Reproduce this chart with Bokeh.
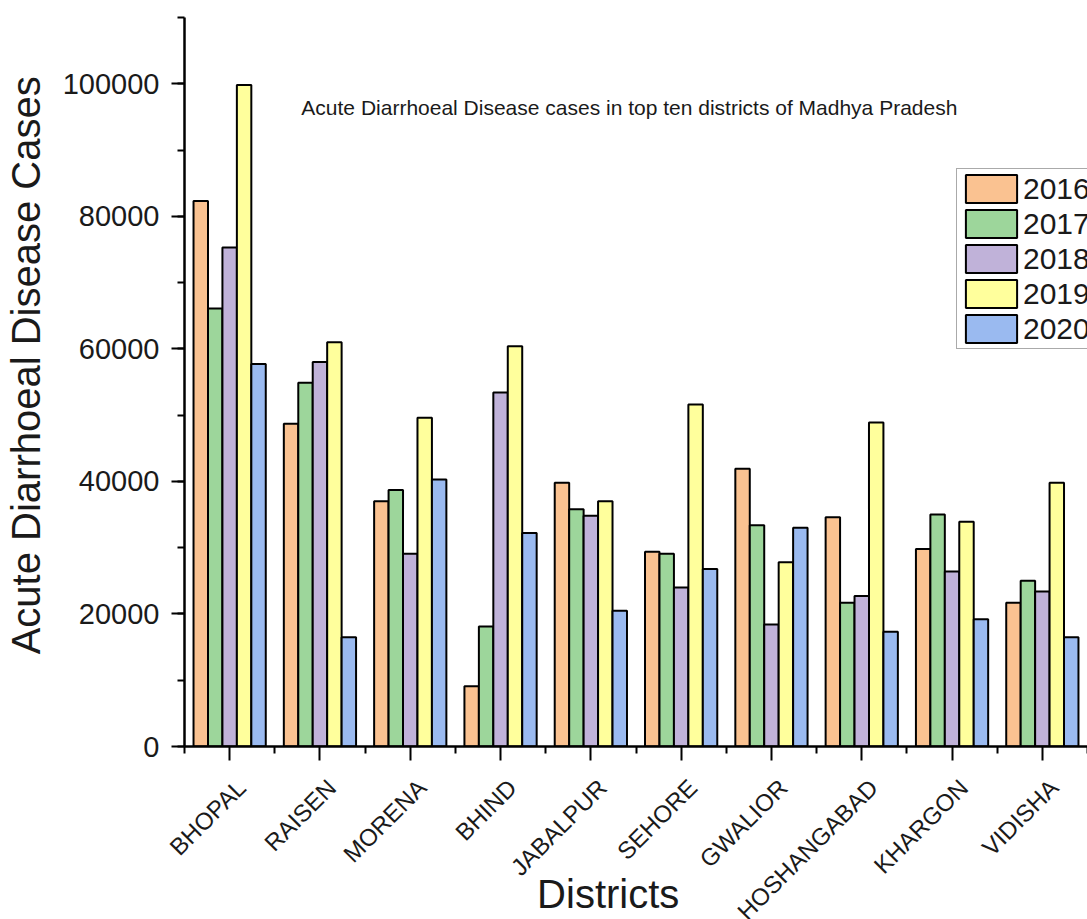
import math

from bokeh.embed import file_html
from bokeh.models import (BasicTickFormatter, ColumnDataSource, FixedTicker,
                          Label, Legend, LegendItem, LinearAxis, Range1d)
from bokeh.plotting import figure
from bokeh.resources import INLINE
from bokeh.transform import dodge

# Acute Diarrhoeal Disease cases, top ten districts of Madhya Pradesh
districts = ["BHOPAL", "RAISEN", "MORENA", "BHIND", "JABALPUR",
             "SEHORE", "GWALIOR", "HOSHANGABAD", "KHARGON", "VIDISHA"]
years = ["2016", "2017", "2018", "2019", "2020"]
cases_2016 = [82300, 48700, 37000, 9100, 39800, 29400, 41900, 34600, 29800, 21700]
cases_2017 = [66100, 54900, 38700, 18100, 35800, 29100, 33400, 21700, 35000, 25000]
cases_2018 = [75300, 58000, 29100, 53400, 34800, 24000, 18400, 22700, 26400, 23400]
cases_2019 = [99800, 61000, 49600, 60400, 37000, 51600, 27800, 48900, 33900, 39800]
cases_2020 = [57700, 16500, 40300, 32200, 20500, 26800, 33000, 17300, 19200, 16500]
y_ticks = [0, 20000, 40000, 60000, 80000, 100000]

year_colors = ["#FAC291", "#9DD69B", "#C0B2D9", "#FFFF9C", "#9ABAF0"]
FONT = "Liberation Sans"
INK = "#1a1a1a"
NBSP = "\u00a0"

n = len(districts)
source = ColumnDataSource(dict(
    pos=list(range(n)),
    y2016=cases_2016, y2017=cases_2017, y2018=cases_2018,
    y2019=cases_2019, y2020=cases_2020,
))

p = figure(width=1087, height=919, output_backend="svg", toolbar_location=None,
           x_range=Range1d(-0.5, 9.5), y_range=Range1d(0, 110000),
           min_border_left=183, min_border_right=0, min_border_top=17,
           min_border_bottom=173)
p.outline_line_color = None
p.xgrid.visible = False
p.ygrid.visible = False
p.background_fill_color = "white"
p.border_fill_color = "white"

bar_w = 0.16
renderers = []
for k, (yr, col) in enumerate(zip(years, year_colors)):
    r = p.vbar(x=dodge("pos", (k - 2) * bar_w), top="y" + yr, width=bar_w,
               source=source, fill_color=col, line_color="black", line_width=2)
    renderers.append(r)

# bottom axis: line and ticks only
xa = p.xaxis[0]
xa.ticker = FixedTicker(ticks=list(range(n)),
                        minor_ticks=[i - 0.5 for i in range(n + 1)])
xa.major_label_overrides = {i: "" for i in range(n)}
xa.major_label_standoff = 0
xa.axis_line_width = 2.5
xa.major_tick_out = 14
xa.major_tick_in = 0
xa.minor_tick_out = 7
xa.minor_tick_in = 0
xa.major_tick_line_width = 2
xa.minor_tick_line_width = 2

# district names, set slightly right of their ticks
name_shift = 0.13
p.extra_x_ranges = {"names": Range1d(-0.5 - name_shift, 9.5 - name_shift)}
xb = LinearAxis(x_range_name="names",
                ticker=FixedTicker(ticks=list(range(n)), minor_ticks=[]),
                major_label_overrides={i: d for i, d in enumerate(districts)},
                major_label_orientation=math.pi / 4,
                major_label_text_font=FONT,
                major_label_text_font_size="24px",
                major_label_text_color=INK,
                major_label_standoff=23,
                axis_line_color=None, major_tick_line_color=None,
                minor_tick_line_color=None, major_tick_out=0, major_tick_in=0,
                axis_label="Districts" + NBSP * 5, axis_label_text_font=FONT,
                axis_label_text_font_size="40px",
                axis_label_text_font_style="normal",
                axis_label_text_color=INK, axis_label_standoff=-66)
p.add_layout(xb, "below")

ya = p.yaxis[0]
ya.ticker = FixedTicker(ticks=y_ticks,
                        minor_ticks=list(range(0, 110001, 10000)))
ya.formatter = BasicTickFormatter(use_scientific=False)
ya.major_label_text_font = FONT
ya.major_label_text_font_size = "29px"
ya.major_label_text_color = INK
ya.major_label_standoff = 12
ya.axis_line_width = 2.5
ya.major_tick_out = 13
ya.major_tick_in = 0
ya.minor_tick_out = 7
ya.minor_tick_in = 0
ya.major_tick_line_width = 2
ya.minor_tick_line_width = 2

# y title on its own bare axis
yt = LinearAxis(ticker=FixedTicker(ticks=[], minor_ticks=[]),
                axis_line_color=None, major_tick_out=0, major_tick_in=0,
                major_label_standoff=0,
                axis_label=NBSP * 3 + "Acute Diarrhoeal Disease Cases",
                axis_label_text_font=FONT, axis_label_text_font_size="40px",
                axis_label_text_font_style="normal", axis_label_text_color=INK,
                axis_label_standoff=12)
p.add_layout(yt, "left")

p.add_layout(Label(x=0.794, y=96400,
                   text="Acute Diarrhoeal Disease cases in top ten districts of Madhya Pradesh",
                   text_align="left", text_baseline="middle",
                   text_font=FONT, text_font_size="21px",
                   text_color=INK))

legend = Legend(items=[LegendItem(label=yr, renderers=[r])
                       for yr, r in zip(years, renderers)],
                location=(772, 397))
legend.border_line_color = "#555555"
legend.border_line_width = 1
legend.background_fill_alpha = 1
legend.label_text_font = FONT
legend.label_text_font_size = "30px"
legend.label_text_color = INK
legend.glyph_width = 64
legend.glyph_height = 35
legend.label_height = 35
legend.spacing = 0
legend.padding = 2
legend.margin = 0
legend.label_standoff = 0
p.add_layout(legend)

open("out.html", "w").write(file_html(p, INLINE))
